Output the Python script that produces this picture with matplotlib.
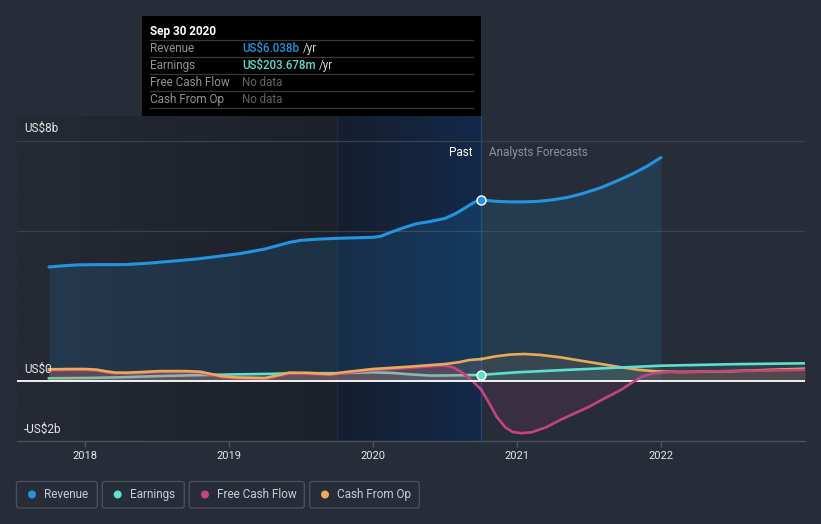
import numpy as np
import matplotlib
matplotlib.use("Agg")
import matplotlib.pyplot as plt
from matplotlib.patches import Rectangle, FancyBboxPatch, Ellipse
from matplotlib.colors import to_rgb

plt.rcParams['font.family'] = ['Roboto', 'DejaVu Sans']

# ---- data (US$ billions) ----
rev_past_x = [2017.75, 2017.85, 2017.95, 2018.1, 2018.28, 2018.45, 2018.62, 2018.78, 2018.90,
              2019.08, 2019.25, 2019.35, 2019.42, 2019.5, 2019.62, 2019.78, 2020.0, 2020.05,
              2020.12, 2020.22, 2020.3, 2020.4, 2020.5, 2020.57, 2020.64, 2020.7, 2020.75]
rev_past_y = [3.80, 3.84, 3.87, 3.88, 3.88, 3.93, 4.00, 4.07, 4.14,
              4.25, 4.40, 4.53, 4.62, 4.69, 4.73, 4.76, 4.79, 4.82,
              4.95, 5.12, 5.24, 5.32, 5.42, 5.57, 5.77, 5.95, 6.038]
rev_fc_x = [2020.75, 2020.85, 2020.95, 2021.05, 2021.15, 2021.25, 2021.35, 2021.45,
            2021.58, 2021.7, 2021.8, 2021.9, 2022.0]
rev_fc_y = [6.038, 5.99, 5.97, 5.97, 5.99, 6.04, 6.12, 6.24,
            6.44, 6.68, 6.90, 7.15, 7.45]

earn_past_x = [2017.75, 2018.0, 2018.22, 2018.56, 2019.04, 2019.3, 2019.49, 2019.76, 2020.0,
               2020.13, 2020.26, 2020.40, 2020.6, 2020.75]
earn_past_y = [0.09, 0.10, 0.12, 0.17, 0.22, 0.24, 0.26, 0.26, 0.29,
               0.27, 0.22, 0.18, 0.19, 0.204]
earn_fc_x = [2020.75, 2021.0, 2021.3, 2021.58, 2022.0, 2022.5, 2023.0]
earn_fc_y = [0.204, 0.29, 0.36, 0.42, 0.51, 0.56, 0.59]

cfo_past_x = [2017.75, 2017.9, 2018.0, 2018.08, 2018.15, 2018.21, 2018.3, 2018.4, 2018.52,
              2018.7, 2018.8, 2018.87, 2018.95, 2019.05, 2019.25, 2019.33, 2019.42, 2019.55,
              2019.7, 2019.83, 2020.0, 2020.13, 2020.26, 2020.4, 2020.51, 2020.6, 2020.67, 2020.75]
cfo_past_y = [0.39, 0.40, 0.40, 0.38, 0.32, 0.28, 0.28, 0.30, 0.33,
              0.33, 0.31, 0.24, 0.16, 0.12, 0.10, 0.18, 0.28, 0.27,
              0.23, 0.31, 0.40, 0.44, 0.48, 0.53, 0.57, 0.63, 0.70, 0.73]
cfo_fc_x = [2020.75, 2020.85, 2020.95, 2021.05, 2021.16, 2021.3, 2021.44, 2021.58, 2021.72,
            2021.85, 2021.97, 2022.15, 2022.5, 2023.0]
cfo_fc_y = [0.73, 0.82, 0.88, 0.90, 0.87, 0.79, 0.68, 0.57, 0.46,
            0.37, 0.32, 0.30, 0.33, 0.41]

fcf_past_x = [2017.75, 2017.9, 2018.0, 2018.08, 2018.15, 2018.21, 2018.3, 2018.4, 2018.52,
              2018.7, 2018.8, 2018.87, 2018.95, 2019.05, 2019.25, 2019.33, 2019.42, 2019.55,
              2019.7, 2019.83, 2020.0, 2020.13, 2020.26, 2020.4, 2020.5, 2020.56, 2020.62,
              2020.68, 2020.75]
fcf_past_y = [0.36, 0.37, 0.37, 0.35, 0.29, 0.25, 0.25, 0.27, 0.30,
              0.30, 0.28, 0.21, 0.13, 0.09, 0.07, 0.15, 0.25, 0.24,
              0.20, 0.28, 0.36, 0.40, 0.44, 0.49, 0.52, 0.45, 0.28,
              0.05, -0.28]
fcf_fc_x = [2020.75, 2020.8, 2020.86, 2020.92, 2020.97, 2021.03, 2021.1, 2021.2, 2021.3,
            2021.4, 2021.5, 2021.6, 2021.72, 2021.8, 2021.87, 2021.95, 2022.05, 2022.5, 2023.0]
fcf_fc_y = [-0.28, -0.68, -1.20, -1.55, -1.70, -1.74, -1.71, -1.55, -1.30,
            -1.08, -0.86, -0.60, -0.30, -0.05, 0.15, 0.26, 0.30, 0.33, 0.37]

years = [2018, 2019, 2020, 2021, 2022]
series_names = ["Revenue", "Earnings", "Free Cash Flow", "Cash From Op"]

C_REV = '#2394df'
C_EARN = '#5fe0cf'
C_FCF = '#c5447f'
C_CFO = '#e9ab57'
BG = '#262c38'

W, H = 821, 524
fig = plt.figure(figsize=(W / 100, H / 100), dpi=100, facecolor=BG)

X0, X1 = 2017.528, 2023.0
Y0, Y1 = -2.0, 8.833
ax = fig.add_axes([17 / W, 1 - 441 / H, (805 - 17) / W, (441 - 116) / H])
ax.set_facecolor(BG)
ax.set_xlim(X0, X1)
ax.set_ylim(Y0, Y1)


def dx(p):  # pixel x -> data x
    return 2018 + (p - 85) / 144


def dy(p):  # pixel y -> data y
    return (381 - p) / 30


def gradient(c0, c1):
    a, b = np.array(to_rgb(c0)), np.array(to_rgb(c1))
    t = np.linspace(0, 1, 256)[:, None]
    return (a * (1 - t) + b * t)[None, :, :]


# past shading
ax.imshow(gradient('#252a35', '#1c2029'), extent=[X0, 2019.75, Y0, Y1],
          aspect='auto', zorder=0, interpolation='bilinear')
ax.imshow(gradient('#161e2f', '#13294a'), extent=[2019.75, 2020.75, Y0, Y1],
          aspect='auto', zorder=0, interpolation='bilinear')
ax.axvline(2019.75, color='#1e2c46', lw=1, zorder=0.5)
ax.axvline(2020.75, color='#27446a', lw=1, zorder=0.5)

# grid
for g in [8, 5]:
    ax.axhline(g, color='#3b414c', lw=0.9, zorder=0.6)

# revenue
rx = rev_past_x + rev_fc_x[1:]
ry = rev_past_y + rev_fc_y[1:]
ax.fill_between(rx, ry, 0, color=C_REV, alpha=0.15, lw=0, zorder=1)
ax.plot(rx, ry, color=C_REV, lw=2.2, zorder=3.5, solid_capstyle='round', solid_joinstyle='round')

# earnings
ax.plot(earn_past_x, earn_past_y, color=C_EARN, lw=1.9, zorder=2.5)
ax.fill_between(earn_past_x, earn_past_y, 0, color=C_EARN, alpha=0.12, lw=0, zorder=2.4)
ax.fill_between(earn_fc_x, earn_fc_y, 0, color=C_EARN, alpha=0.10, lw=0, zorder=2)
ax.plot(earn_fc_x, earn_fc_y, color=C_EARN, lw=1.9, zorder=3.2)

# free cash flow
ax.fill_between(fcf_past_x, fcf_past_y, 0, color=C_FCF, alpha=0.22, lw=0, zorder=2.6)
ax.plot(fcf_past_x, fcf_past_y, color=C_FCF, lw=1.9, zorder=2.7, solid_joinstyle='round')
ax.fill_between(fcf_fc_x, fcf_fc_y, 0, color=C_FCF, alpha=0.13, lw=0, zorder=2)
ax.plot(fcf_fc_x, fcf_fc_y, color=C_FCF, lw=1.9, zorder=3.1, solid_joinstyle='round')

# cash from op
ax.fill_between(cfo_past_x, cfo_past_y, 0, color=C_CFO, alpha=0.15, lw=0, zorder=2.6)
ax.plot(cfo_past_x, cfo_past_y, color=C_CFO, lw=1.9, zorder=2.8, solid_joinstyle='round')
ax.fill_between(cfo_fc_x, cfo_fc_y, 0, color=C_CFO, alpha=0.10, lw=0, zorder=2)
ax.plot(cfo_fc_x, cfo_fc_y, color=C_CFO, lw=1.9, zorder=3.0, solid_joinstyle='round')

ax.axhline(0, color='white', lw=1.3, zorder=2.9)

# markers
ax.plot([rev_past_x[-1]], [rev_past_y[-1]], 'o', ms=6.5, mfc=C_REV, mec='white', mew=1, zorder=6)
ax.plot([earn_past_x[-1]], [earn_past_y[-1]], 'o', ms=6.5, mfc=C_EARN, mec='white', mew=1, zorder=6)

# axes styling
for s in ['top', 'right', 'left']:
    ax.spines[s].set_visible(False)
ax.spines['bottom'].set_color('#4b515c')
ax.spines['bottom'].set_linewidth(1)
ax.set_yticks([])
ax.set_xticks(years)
ax.set_xticklabels([str(y) for y in years])
ax.tick_params(axis='x', direction='out', length=4, width=1, color='#4b515c',
               labelcolor='#e6e6e6', labelsize=8, pad=3)

# y labels
for lab, py in [("US$8b", 128), ("US$0", 369), ("-US$2b", 429)]:
    ax.text(dx(24), dy(py), lab, color='#e6e6e6', fontsize=8.5, ha='left', va='center', zorder=7)

ax.text(dx(472.7), dy(153), "Past", color='#ffffff', fontsize=8.5, ha='right', va='center', zorder=7)
ax.text(dx(489.3), dy(153), "Analysts Forecasts", color='#8d929a', fontsize=8.5,
        ha='left', va='center', zorder=7)

# ---- overlay in pixel coordinates: tooltip + legend ----
ov = fig.add_axes([0, 0, 1, 1], zorder=10)
ov.set_xlim(0, W)
ov.set_ylim(H, 0)
ov.axis('off')
ov.patch.set_alpha(0)

ov.add_patch(Rectangle((142, 16), 339, 100, color='black', lw=0))
ov.text(150, 31, "Sep 30 2020", color='white', fontsize=8.5, fontweight='bold', va='center')
for ly in [40, 57.3, 74.3, 91.3, 108.3]:
    ov.plot([150, 473], [ly, ly], color='#3a3a3a', lw=0.9)

renderer = fig.canvas.get_renderer()
rows = [("Revenue", "US$6.038b", C_REV, True),
        ("Earnings", "US$203.678m", C_EARN, True),
        ("Free Cash Flow", "No data", '#5f636b', False),
        ("Cash From Op", "No data", '#5f636b', False)]
for i, (lab, val, col, per_year) in enumerate(rows):
    yy = 48.3 + i * 17
    ov.text(150, yy, lab, color='#8f939a', fontsize=8.5, va='center')
    t = ov.text(242, yy, val, color=col, fontsize=8.3, va='center',
                fontweight='medium' if per_year else 'normal')
    if per_year:
        bb = t.get_window_extent(renderer)
        x_end = ov.transData.inverted().transform((bb.x1, bb.y0))[0]
        ov.text(x_end + 3.5, yy, "/yr", color='#d8d8d8', fontsize=8.3, va='center')

# legend
boxes = [(16.5, 97.3), (102.3, 184.3), (189.3, 304.3), (309.7, 419.3)]
dot_x = [32, 117.7, 205, 325]
txt_x = [44.3, 130, 217.3, 337.3]
cols = [C_REV, C_EARN, C_FCF, C_CFO]
for (bx0, bx1), ddx, tx, col, name in zip(boxes, dot_x, txt_x, cols, series_names):
    ov.add_patch(FancyBboxPatch((bx0, 481.5), bx1 - bx0, 26.5,
                                boxstyle="round,pad=0,rounding_size=2.5",
                                fc='none', ec='#4a505b', lw=1))
    ov.add_patch(Ellipse((ddx, 494.5), 8, 8, color=col, lw=0))
    ov.text(tx, 494.5, name, color='#c9cdd3', fontsize=8.5, va='center')

fig.savefig("out.png", dpi=100, facecolor=BG)
